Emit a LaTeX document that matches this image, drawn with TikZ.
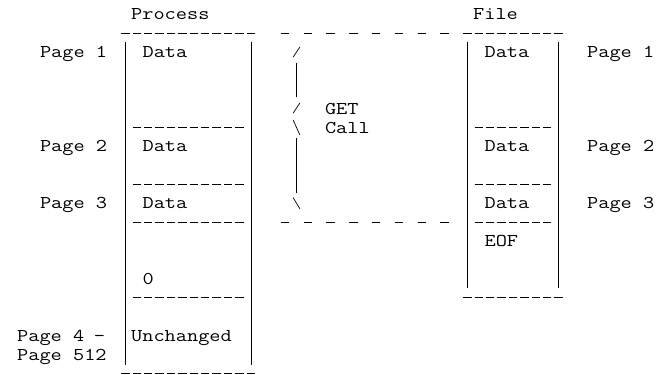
\documentclass[tikz,border=0pt]{standalone}
\usepackage{fontspec}
\newfontfamily\asciimono[FakeStretch=1.206]{Latin Modern Mono}
\begin{document}
\begin{tikzpicture}[x=11.4pt, y=-18.92pt,
  lbl/.style={anchor=base west, inner sep=0pt, outer sep=0pt, text=black,
    font=\asciimono\fontsize{18}{18}\selectfont},
  bar/.style={line width=0.8pt, black},
  dashrow/.style={line width=0.8pt, black, dash pattern=on 8.4pt off 3pt},
  sparse/.style={line width=0.8pt, black, dash pattern=on 8.4pt off 14.4pt}]
\useasboundingbox (-0.5088,-0.7400) rectangle (57.298,19.080);

% ---------- texts ----------
\node[lbl] (proc) at (11,0.29) {Process};
\node[lbl] (file) at (41,0.29) {File};
\node[lbl] (lp1) at (3,2.29) {Page 1};
\node[lbl] (pd1) at (12,2.29) {Data};
\node[lbl] (fd1) at (42,2.29) {Data};
\node[lbl] (rp1) at (51,2.29) {Page 1};
\node[lbl] (get) at (28,5.29) {GET};
\node[lbl] (call) at (28,6.29) {Call};
\node[lbl] (lp2) at (3,7.29) {Page 2};
\node[lbl] (pd2) at (12,7.29) {Data};
\node[lbl] (fd2) at (42,7.29) {Data};
\node[lbl] (rp2) at (51,7.29) {Page 2};
\node[lbl] (lp3) at (3,10.29) {Page 3};
\node[lbl] (pd3) at (12,10.29) {Data};
\node[lbl] (fd3) at (42,10.29) {Data};
\node[lbl] (rp3) at (51,10.29) {Page 3};
\node[lbl] (eof) at (42,12.29) {EOF};
\node[lbl] (zero) at (12,14.29) {0};
\node[lbl] (lp4) at (1,17.29) {Page 4 \kern-1.5pt–};
\node[lbl] (unch) at (11,17.29) {Unchanged};
\node[lbl] (lp512) at (1,18.29) {Page 512};

% ---------- box corners ----------
\coordinate (pTL) at (10.5,1.47);
\coordinate (pBL) at (10.5,18.53);
\coordinate (pTR) at (21.5,1.47);
\coordinate (pBR) at (21.5,18.53);
\coordinate (fTL) at (40.5,1.47);
\coordinate (fBL) at (40.5,14.5);
\coordinate (fTR) at (48.5,1.47);
\coordinate (fBR) at (48.5,14.5);
\draw[bar] (pTL) -- (pBL);
\draw[bar] (pTR) -- (pBR);
\draw[bar] (fTL) -- (fBL);
\draw[bar] (fTR) -- (fBR);

% ---------- dashed rows ----------
\coordinate (pt1a) at (10.13,1);  \coordinate (pt1b) at (21.87,1);
\coordinate (st1a) at (24.13,1);  \coordinate (st1b) at (38.87,1);
\coordinate (ft1a) at (40.13,1);  \coordinate (ft1b) at (48.87,1);
\draw[dashrow] (pt1a) -- (pt1b);
\draw[sparse]  (st1a) -- (st1b);
\draw[dashrow] (ft1a) -- (ft1b);

\foreach \r in {6,9,11,15}{
  \coordinate (pi\r a) at (11.13,\r);
  \coordinate (pi\r b) at (20.87,\r);
  \draw[dashrow] (pi\r a) -- (pi\r b);
}
\foreach \r in {6,9,11}{
  \coordinate (fi\r a) at (41.13,\r);
  \coordinate (fi\r b) at (47.87,\r);
  \draw[dashrow] (fi\r a) -- (fi\r b);
}
\coordinate (sb1a) at (24.13,11);  \coordinate (sb1b) at (38.87,11);
\draw[sparse] (sb1a) -- (sb1b);
\coordinate (fba) at (40.13,15);  \coordinate (fbb) at (48.87,15);
\draw[dashrow] (fba) -- (fbb);
\coordinate (pba) at (10.13,19);  \coordinate (pbb) at (21.87,19);
\draw[dashrow] (pba) -- (pbb);

% ---------- brace ----------
\coordinate (b1a) at (25.2,2.28);  \coordinate (b1b) at (25.8,1.74);
\coordinate (b2a) at (25.5,2.58);  \coordinate (b2b) at (25.5,4.4);
\coordinate (b3a) at (25.2,5.24);  \coordinate (b3b) at (25.8,4.7);
\coordinate (b4a) at (25.2,5.6);   \coordinate (b4b) at (25.8,6.4);
\coordinate (b5a) at (25.5,6.55);  \coordinate (b5b) at (25.5,9.45);
\coordinate (b6a) at (25.2,9.7);   \coordinate (b6b) at (25.8,10.3);
\draw[bar, line width=0.7pt] (b1a) -- (b1b);
\draw[bar] (b2a) -- (b2b);
\draw[bar, line width=0.7pt] (b3a) -- (b3b);
\draw[bar, line width=0.7pt] (b4a) -- (b4b);
\draw[bar] (b5a) -- (b5b);
\draw[bar, line width=0.7pt] (b6a) -- (b6b);
\end{tikzpicture}
\end{document}
